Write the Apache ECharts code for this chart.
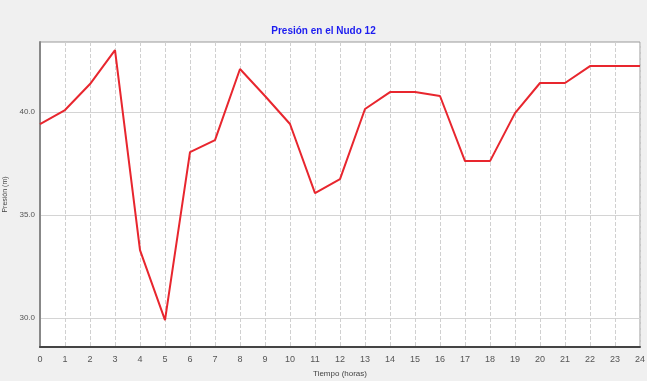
<!DOCTYPE html>
<html>
<head>
<meta charset="utf-8">
<script src="https://cdn.jsdelivr.net/npm/echarts@6/dist/echarts.min.js"></script>
<style>
    html, body { margin: 0; padding: 0; background: #f0f0f0; }
    #chart-container { width: 647px; height: 381px; }
</style>
</head>
<body>
<div id="chart-container"></div>
<script>
// horas 0..24
var hours = ['0', '1', '2', '3', '4', '5', '6', '7', '8', '9', '10', '11', '12',
    '13', '14', '15', '16', '17', '18', '19', '20', '21', '22', '23', '24'];
// presion (m)
var pressure = [39.42, 40.10, 41.36, 43.01, 33.30, 29.90, 38.06, 38.64, 42.09, 40.78,
    39.42, 36.07, 36.75, 40.15, 40.97, 40.97, 40.78, 37.62, 37.62, 39.95,
    41.41, 41.41, 42.23, 42.23, 42.23];
var yTicks = [30, 35, 40];

var chartDom = document.getElementById('chart-container');
var myChart = echarts.init(chartDom);
var option;

option = {
    backgroundColor: '#f0f0f0',
    animation: false,
    title: {
        text: 'Presión en el Nudo 12',
        left: 'center',
        top: 21,
        textStyle: {
            color: '#1c1cf0',
            fontSize: 10,
            fontWeight: 'bold',
            fontFamily: 'Liberation Sans Narrow, Liberation Sans'
        }
    },
    grid: {
        left: 40,
        right: 7,
        top: 42,
        bottom: 34,
        outerBoundsMode: 'none',
        containLabel: false,
        show: true,
        backgroundColor: '#ffffff',
        borderColor: '#9a9a9a',
        borderWidth: 1
    },
    xAxis: {
        type: 'category',
        boundaryGap: false,
        data: hours,
        name: 'Tiempo (horas)',
        nameLocation: 'middle',
        nameGap: 23,
        nameTextStyle: { fontSize: 8, color: '#444' },
        axisLine: { lineStyle: { color: '#444', width: 2 } },
        axisTick: { show: false },
        axisLabel: { fontSize: 9, color: '#555', margin: 8, interval: 0 },
        splitLine: { show: true, lineStyle: { color: '#d0d0d0', type: 'dashed', width: 1 } }
    },
    yAxis: {
        type: 'value',
        min: 28.6,
        max: 43.4,
        name: 'Presión (m)',
        nameLocation: 'middle',
        nameGap: 6,
        nameTextStyle: { fontSize: 7, color: '#444' },
        axisLine: { show: true, lineStyle: { color: '#888', width: 2 } },
        axisTick: { show: false, customValues: yTicks },
        axisLabel: {
            fontSize: 8,
            color: '#555',
            margin: 5,
            customValues: yTicks,
            formatter: function (v) { return v.toFixed(1); }
        },
        splitLine: { show: true, lineStyle: { color: '#d4d4d4', width: 1 } }
    },
    series: [
        {
            type: 'line',
            data: pressure,
            symbol: 'none',
            lineStyle: { color: '#e8262e', width: 2 }
        }
    ]
};

option && myChart.setOption(option);
</script>
</body>
</html>
